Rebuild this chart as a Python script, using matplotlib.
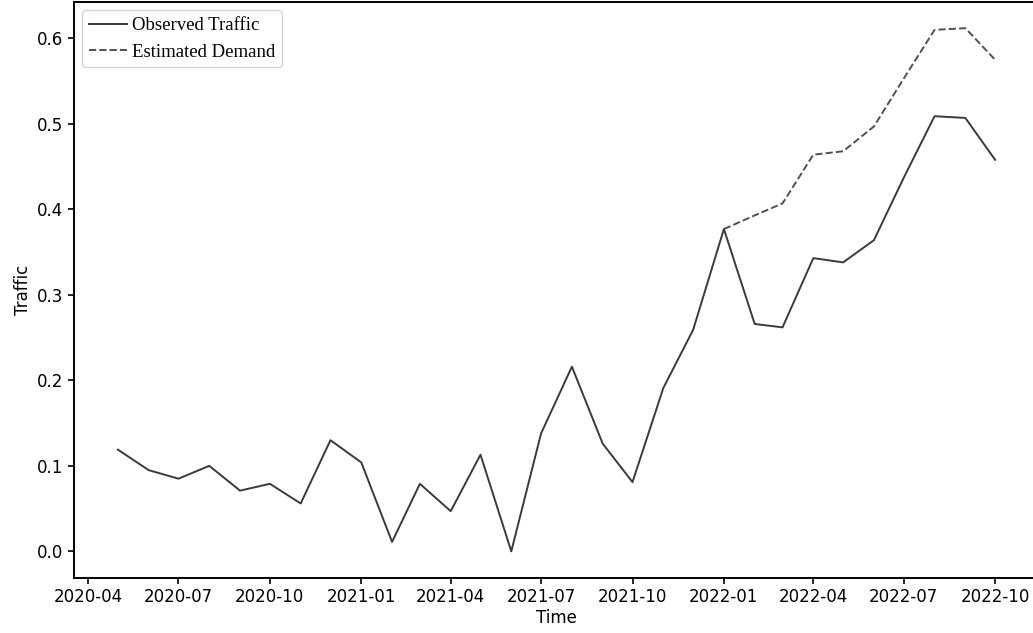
import matplotlib
matplotlib.use("Agg")
import matplotlib.pyplot as plt
import matplotlib.dates as mdates
import pandas as pd

# Monthly observed traffic (May 2020 - Oct 2022)
months = pd.date_range("2020-05-01", "2022-10-01", freq="MS")
observed = [0.119, 0.095, 0.085, 0.100, 0.071, 0.079, 0.056, 0.130,
            0.104, 0.011, 0.079, 0.047, 0.113, 0.000, 0.138, 0.216,
            0.126, 0.081, 0.191, 0.259, 0.377, 0.266, 0.262, 0.343,
            0.338, 0.364, 0.437, 0.509, 0.507, 0.458]

# Estimated demand from Jan 2022 onward
demand_months = pd.date_range("2022-01-01", "2022-10-01", freq="MS")
demand = [0.377, 0.393, 0.407, 0.464, 0.468, 0.497, 0.553, 0.610,
          0.612, 0.575]

W, H = 1033, 633
fig = plt.figure(figsize=(W / 100, H / 100), dpi=100)
ax = fig.add_axes([74 / W, (H - 577.5) / H, (1039 - 74) / W, (577.5 - 2) / H])

ax.plot(months, observed, color="#3a3a3a", linewidth=1.4, label="Observed Traffic")
ax.plot(demand_months, demand, color="#505050", linewidth=1.4, linestyle="--",
        label="Estimated Demand")

ax.set_xlabel("Time", fontsize=12, labelpad=2)
ax.set_ylabel("Traffic", fontsize=12)
ax.tick_params(labelsize=12, width=1.2, length=4)
for s in ax.spines.values():
    s.set_linewidth(1.4)

ax.xaxis.set_major_locator(mdates.MonthLocator(bymonth=[1, 4, 7, 10]))
ax.xaxis.set_major_formatter(mdates.DateFormatter("%Y-%m"))

ax.legend(loc="upper left", prop={"family": "Liberation Serif", "size": 13.5},
          handlelength=2.0, handletextpad=0.3, borderaxespad=0.45,
          borderpad=0.35, labelspacing=0.5)

fig.savefig("out.png", dpi=100)
